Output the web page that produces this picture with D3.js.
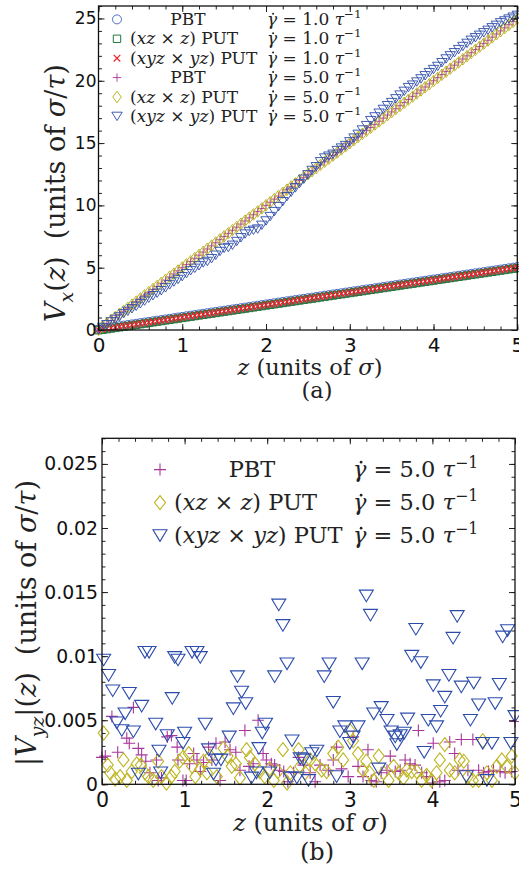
<!DOCTYPE html>
<html>
<head>
<meta charset="utf-8">
<script src="https://cdn.jsdelivr.net/npm/d3@7"></script>
<style>
  body { margin: 0; background: #fff; }
  text { white-space: pre; }
</style>
</head>
<body>
<svg id="chart" width="519" height="871"></svg>
<script>
// ---------- data: panel (a), velocity profiles V_x(z) ----------
const zTop = [0,0.05,0.1,0.15,0.2,0.25,0.3,0.35,0.4,0.45,0.5,0.55,0.6,0.65,0.7,0.75,0.8,0.85,0.9,0.95,
  1,1.05,1.1,1.15,1.2,1.25,1.3,1.35,1.4,1.45,1.5,1.55,1.6,1.65,1.7,1.75,1.8,1.85,1.9,1.95,
  2,2.05,2.1,2.15,2.2,2.25,2.3,2.35,2.4,2.45,2.5,2.55,2.6,2.65,2.7,2.75,2.8,2.85,2.9,2.95,
  3,3.05,3.1,3.15,3.2,3.25,3.3,3.35,3.4,3.45,3.5,3.55,3.6,3.65,3.7,3.75,3.8,3.85,3.9,3.95,
  4,4.05,4.1,4.15,4.2,4.25,4.3,4.35,4.4,4.45,4.5,4.55,4.6,4.65,4.7,4.75,4.8,4.85,4.9,4.95,5];

// shear rate 1.0
const vxPBT1 = [0.04,0.10,0.15,0.20,0.25,0.30,0.35,0.40,0.45,0.50,0.55,0.60,0.65,0.70,0.75,0.80,0.85,0.90,0.95,1.00,
  1.05,1.10,1.15,1.20,1.25,1.30,1.35,1.40,1.45,1.50,1.55,1.60,1.65,1.70,1.75,1.80,1.85,1.90,1.95,2.00,
  2.05,2.10,2.15,2.20,2.25,2.30,2.35,2.40,2.45,2.50,2.55,2.60,2.65,2.70,2.75,2.80,2.85,2.90,2.95,3.00,
  3.05,3.10,3.15,3.20,3.25,3.30,3.35,3.40,3.45,3.50,3.55,3.60,3.65,3.70,3.75,3.80,3.85,3.90,3.95,4.00,
  4.05,4.10,4.15,4.20,4.25,4.30,4.35,4.40,4.45,4.50,4.55,4.60,4.65,4.70,4.75,4.80,4.85,4.90,4.95,5.00,5.05];
const vxXZ1 = [-0.02,0.02,0.07,0.12,0.17,0.22,0.27,0.32,0.37,0.42,0.47,0.52,0.57,0.62,0.67,0.72,0.77,0.82,0.87,0.92,
  0.97,1.02,1.07,1.12,1.17,1.22,1.27,1.32,1.37,1.42,1.47,1.52,1.57,1.62,1.67,1.72,1.77,1.82,1.87,1.92,
  1.97,2.02,2.07,2.12,2.17,2.22,2.27,2.32,2.37,2.42,2.47,2.52,2.57,2.62,2.67,2.72,2.77,2.82,2.87,2.92,
  2.97,3.02,3.07,3.12,3.17,3.22,3.27,3.32,3.37,3.42,3.47,3.52,3.57,3.62,3.67,3.72,3.77,3.82,3.87,3.92,
  3.97,4.02,4.07,4.12,4.17,4.22,4.27,4.32,4.37,4.42,4.47,4.52,4.57,4.62,4.67,4.72,4.77,4.82,4.87,4.92,4.97];
const vxXYZ1 = [0.01,0.06,0.11,0.16,0.21,0.26,0.31,0.36,0.41,0.46,0.51,0.56,0.61,0.66,0.71,0.76,0.81,0.86,0.91,0.96,
  1.01,1.06,1.11,1.16,1.21,1.26,1.31,1.36,1.41,1.46,1.51,1.56,1.61,1.66,1.71,1.76,1.81,1.86,1.91,1.96,
  2.01,2.06,2.11,2.16,2.21,2.26,2.31,2.36,2.41,2.46,2.51,2.56,2.61,2.66,2.71,2.76,2.81,2.86,2.91,2.96,
  3.01,3.06,3.11,3.16,3.21,3.26,3.31,3.36,3.41,3.46,3.51,3.56,3.61,3.66,3.71,3.76,3.81,3.86,3.91,3.96,
  4.01,4.06,4.11,4.16,4.21,4.26,4.31,4.36,4.41,4.46,4.51,4.56,4.61,4.66,4.71,4.76,4.81,4.86,4.91,4.96,5.01];

// shear rate 5.0
const vxPBT5 = [0,0.25,0.50,0.76,1.00,1.25,1.50,1.75,2.00,2.25,2.50,2.75,3.00,3.25,3.50,3.75,4.00,4.25,4.50,4.75,
  5.00,5.25,5.50,5.75,6.00,6.25,6.50,6.75,7.00,7.25,7.50,7.75,8.00,8.25,8.50,8.75,9.00,9.25,9.50,9.75,
  10.00,10.25,10.50,10.75,11.00,11.25,11.50,11.75,12.00,12.25,12.50,12.75,13.00,13.25,13.50,13.75,14.00,14.25,14.50,14.75,
  15.00,15.25,15.50,15.75,16.00,16.25,16.50,16.75,17.00,17.25,17.50,17.75,18.00,18.25,18.50,18.75,19.00,19.25,19.50,19.75,
  20.00,20.25,20.50,20.75,21.00,21.25,21.50,21.75,22.00,22.25,22.50,22.75,23.00,23.25,23.50,23.75,24.00,24.25,24.50,24.75,25.00];
const vxXZ5 = [0.02,0.28,0.53,0.78,1.03,1.28,1.53,1.78,2.03,2.28,2.53,2.78,3.03,3.28,3.53,3.78,4.03,4.28,4.52,4.77,
  5.02,5.27,5.52,5.77,6.02,6.27,6.52,6.77,7.02,7.27,7.52,7.77,8.02,8.27,8.52,8.77,9.02,9.27,9.51,9.76,
  10.01,10.26,10.51,10.76,11.01,11.26,11.51,11.76,12.01,12.26,12.50,12.75,13.00,13.25,13.50,13.75,13.99,14.24,14.49,14.74,
  14.99,15.24,15.49,15.74,15.99,16.24,16.49,16.74,16.99,17.24,17.48,17.73,17.98,18.23,18.48,18.73,18.98,19.23,19.48,19.73,
  19.98,20.23,20.48,20.73,20.98,21.23,21.48,21.73,21.98,22.23,22.48,22.73,22.98,23.23,23.48,23.73,23.98,24.23,24.48,24.73,24.98];
const vxXYZ5 = [0.00,0.20,0.42,0.65,0.85,1.05,1.30,1.50,1.70,1.90,2.10,2.32,2.55,2.75,2.95,3.15,3.38,3.62,3.85,4.05,
  4.28,4.52,4.75,4.95,5.15,5.38,5.50,5.72,6.00,6.30,6.55,6.62,6.80,7.10,7.40,7.70,7.90,8.00,8.10,8.40,
  8.75,9.10,9.50,9.90,10.30,10.70,11.05,11.40,11.75,12.10,12.45,12.80,13.10,13.50,13.80,13.95,14.10,14.40,14.60,14.80,
  15.10,15.40,15.70,16.05,16.40,16.80,17.10,17.40,17.70,18.00,18.25,18.55,18.85,19.15,19.45,19.65,19.90,20.15,20.40,20.65,
  20.90,21.15,21.45,21.75,22.00,22.25,22.50,22.75,23.00,23.25,23.45,23.65,23.85,24.05,24.25,24.45,24.65,24.80,24.95,25.10,25.25];

// ---------- data: panel (b), |V_yz|(z) at shear rate 5.0, pairs [z, value] ----------
const vyzPBT = [[0.00,0.0021],[0.04,0.0022],[0.12,0.0053],[0.19,0.0025],[0.30,0.0036],[0.33,0.0032],[0.38,0.0060],[0.44,0.0028],
  [0.48,0.0023],[0.53,0.0018],[0.58,0.0009],[0.66,0.0019],[0.68,0.0003],[0.72,0.0005],[0.79,0.0037],[0.84,0.0038],
  [0.91,0.0029],[0.92,0.0019],[0.98,0.0003],[1.02,0.0003],[1.06,0.0016],[1.11,0.0024],[1.15,0.0019],[1.19,0.0010],
  [1.23,0.0017],[1.29,0.0029],[1.33,0.0019],[1.38,0.0032],[1.43,0.0003],[1.49,0.0033],[1.55,0.0027],[1.62,0.0025],
  [1.67,0.0011],[1.73,0.0042],[1.78,0.0014],[1.83,0.0016],[1.89,0.0050],[1.95,0.0024],[1.99,0.0019],[2.05,0.0016],
  [2.09,0.0015],[2.15,0.0011],[2.20,0.0010],[2.25,0.0002],[2.32,0.0009],[2.38,0.0021],[2.44,0.0015],[2.52,0.0009],
  [2.58,0.0002],[2.64,0.0015],[2.74,0.0011],[2.80,0.0019],[2.84,0.0029],[2.90,0.0012],[2.98,0.0006],[3.04,0.0037],
  [3.10,0.0014],[3.16,0.0006],[3.22,0.0027],[3.26,0.0003],[3.32,0.0002],[3.38,0.0009],[3.45,0.0011],[3.49,0.0022],
  [3.55,0.0010],[3.61,0.0011],[3.67,0.0019],[3.73,0.0016],[3.79,0.0015],[3.83,0.0042],[3.87,0.0009],[3.93,0.0006],
  [4.00,0.0001],[4.01,0.0032],[4.09,0.0002],[4.15,0.0003],[4.21,0.0033],[4.27,0.0024],[4.31,0.0011],[4.35,0.0035],
  [4.43,0.0011],[4.49,0.0035],[4.56,0.0011],[4.62,0.0009],[4.68,0.0010],[4.74,0.0011],[4.82,0.0010],[4.88,0.0009],
  [4.96,0.0010],[5.00,0.0049]];
const vyzXZ = [[0.02,0.0040],[0.07,0.0015],[0.10,0.0009],[0.16,0.0004],[0.22,0.0006],[0.26,0.0019],[0.30,0.0003],[0.36,0.0010],
  [0.42,0.0016],[0.47,0.0015],[0.52,0.0009],[0.56,0.0006],[0.62,0.0003],[0.68,0.0018],[0.72,0.0006],[0.78,0.0001],
  [0.84,0.0006],[0.88,0.0010],[0.94,0.0018],[0.98,0.0021],[1.05,0.0024],[1.09,0.0014],[1.13,0.0006],[1.19,0.0012],
  [1.23,0.0018],[1.27,0.0009],[1.31,0.0022],[1.39,0.0006],[1.47,0.0028],[1.52,0.0022],[1.57,0.0014],[1.62,0.0016],
  [1.67,0.0005],[1.75,0.0027],[1.79,0.0021],[1.85,0.0016],[1.91,0.0010],[1.97,0.0006],[2.03,0.0012],[2.08,0.0003],
  [2.13,0.0010],[2.19,0.0027],[2.24,0.0001],[2.28,0.0009],[2.38,0.0027],[2.40,0.0014],[2.46,0.0009],[2.52,0.0019],
  [2.58,0.0016],[2.66,0.0011],[2.72,0.0010],[2.80,0.0024],[2.86,0.0029],[2.92,0.0019],[3.00,0.0042],[3.04,0.0034],
  [3.10,0.0024],[3.16,0.0011],[3.20,0.0018],[3.24,0.0009],[3.29,0.0003],[3.35,0.0022],[3.41,0.0009],[3.47,0.0003],
  [3.53,0.0014],[3.59,0.0009],[3.65,0.0005],[3.69,0.0011],[3.75,0.0010],[3.81,0.0010],[3.87,0.0003],[3.93,0.0007],
  [3.99,0.0003],[4.05,0.0009],[4.09,0.0019],[4.15,0.0031],[4.21,0.0011],[4.27,0.0009],[4.33,0.0019],[4.38,0.0018],
  [4.43,0.0006],[4.49,0.0003],[4.56,0.0003],[4.61,0.0034],[4.66,0.0009],[4.72,0.0003],[4.78,0.0014],[4.84,0.0019],
  [4.90,0.0014],[4.96,0.0022],[5.00,0.0009]];
const vyzXYZ = [[0.02,0.0097],[0.08,0.0085],[0.13,0.0073],[0.18,0.0048],[0.24,0.0042],[0.28,0.0055],[0.33,0.0071],[0.38,0.0041],
  [0.44,0.0008],[0.48,0.0061],[0.52,0.0103],[0.57,0.0103],[0.65,0.0047],[0.69,0.0026],[0.71,0.0009],[0.79,0.0038],
  [0.85,0.0067],[0.88,0.0099],[0.92,0.0097],[0.98,0.0032],[1.00,0.0040],[1.09,0.0103],[1.15,0.0103],[1.19,0.0099],
  [1.25,0.0047],[1.29,0.0027],[1.35,0.0008],[1.38,0.0019],[1.44,0.0019],[1.54,0.0037],[1.59,0.0059],[1.64,0.0084],
  [1.69,0.0072],[1.74,0.0063],[1.81,0.0005],[1.87,0.0009],[1.90,0.0028],[1.94,0.0040],[1.98,0.0047],[2.03,0.0009],
  [2.09,0.0084],[2.14,0.0140],[2.19,0.0124],[2.24,0.0094],[2.28,0.0005],[2.30,0.0034],[2.36,0.0005],[2.40,0.0020],
  [2.44,0.0019],[2.50,0.0003],[2.54,0.0024],[2.60,0.0026],[2.69,0.0084],[2.75,0.0094],[2.80,0.0064],[2.84,0.0006],
  [2.88,0.0041],[2.94,0.0045],[3.00,0.0032],[3.04,0.0037],[3.10,0.0045],[3.15,0.0094],[3.20,0.0147],[3.25,0.0132],
  [3.29,0.0055],[3.35,0.0012],[3.38,0.0060],[3.45,0.0050],[3.50,0.0041],[3.55,0.0037],[3.57,0.0031],[3.61,0.0038],
  [3.66,0.0040],[3.70,0.0051],[3.75,0.0100],[3.80,0.0121],[3.86,0.0095],[3.90,0.0025],[3.95,0.0050],[4.01,0.0077],
  [4.05,0.0045],[4.10,0.0057],[4.15,0.0068],[4.20,0.0085],[4.25,0.0114],[4.30,0.0131],[4.35,0.0076],[4.41,0.0006],
  [4.46,0.0050],[4.50,0.0079],[4.56,0.0062],[4.61,0.0032],[4.66,0.0003],[4.72,0.0032],[4.76,0.0063],[4.81,0.0078],
  [4.85,0.0115],[4.91,0.0120],[4.95,0.0032],[5.00,0.0053]];

// ---------- axis ticks ----------
const xTicks = [0, 1, 2, 3, 4, 5];
const xTickLabels = ["0", "1", "2", "3", "4", "5"];
const yTicksTop = [0, 5, 10, 15, 20, 25];
const yTickLabelsTop = ["0", "5", "10", "15", "20", "25"];
const yTicksBot = [0, 0.005, 0.01, 0.015, 0.02, 0.025];
const yTickLabelsBot = ["0", "0.005", "0.01", "0.015", "0.02", "0.025"];

// ---------- drawing ----------
const svg = d3.select("#chart");
const SANS = "DejaVu Sans", SERIF = "DejaVu Serif";

const markerPath = {
  circle: s => `M${s.r},0A${s.r},${s.r} 0 1,1 ${-s.r},0A${s.r},${s.r} 0 1,1 ${s.r},0Z`,
  square: s => `M${-s.h},${-s.h}H${s.h}V${s.h}H${-s.h}Z`,
  cross: s => `M${-s.h},${-s.h}L${s.h},${s.h}M${-s.h},${s.h}L${s.h},${-s.h}`,
  plus: s => `M${-s.h},0H${s.h}M0,${-s.h}V${s.h}`,
  diamond: s => `M0,${-s.hh}L${s.hw},0L0,${s.hh}L${-s.hw},0Z`,
  tri: s => `M${-s.hw},${-s.ht}H${s.hw}L0,${s.ht}Z`
};

function rich(t, parts, fs) {
  let cur = 0;
  parts.forEach(([s, k]) => {
    const kinds = (k || "").split(" ");
    let off = 0, size = fs;
    if (kinds.includes("sub")) { off = 0.28 * fs; size = 0.7 * fs; }
    if (kinds.includes("sup")) { off = -0.42 * fs; size = 0.7 * fs; }
    t.append("tspan")
      .attr("dy", off - cur)
      .attr("font-size", size)
      .attr("font-style", kinds.includes("i") ? "italic" : "normal")
      .text(s);
    cur = off;
  });
}

function drawMarkers(g, pts, style) {
  g.append("g").selectAll("path").data(pts).join("path")
    .attr("transform", d => `translate(${d[0]},${d[1]})`)
    .attr("d", markerPath[style.shape](style))
    .attr("fill", "none")
    .attr("stroke", style.color)
    .attr("stroke-width", style.sw || 1);
}

function frameAxes(g, x, y, W, H, yTicks, yLabels, yMinor, ys) {
  const xMinor = d3.range(0, 5.0001, 0.2);
  const bottomMajor = d3.axisBottom(x).tickValues(xTicks)
    .tickFormat((d, i) => xTickLabels[i]).tickSize(-6).tickPadding(ys.xPad);
  const gx = g.append("g").attr("transform", `translate(0,${H})`).call(bottomMajor);
  gx.selectAll("text").attr("font-family", SANS).attr("font-size", ys.xFont).attr("fill", "#111");
  const leftMajor = d3.axisLeft(y).tickValues(yTicks)
    .tickFormat((d, i) => yLabels[i]).tickSize(-6).tickPadding(ys.yPad);
  const gy = g.append("g").call(leftMajor);
  gy.selectAll("text").attr("font-family", SANS).attr("font-size", ys.yFont).attr("fill", "#111");
  // mirrored majors and all minors
  g.append("g").attr("transform", `translate(0,${H})`)
    .call(d3.axisBottom(x).tickValues(xMinor).tickSize(-3.5).tickFormat(""));
  g.append("g").call(d3.axisTop(x).tickValues(xTicks).tickSize(-6).tickFormat(""));
  g.append("g").call(d3.axisTop(x).tickValues(xMinor).tickSize(-3.5).tickFormat(""));
  g.append("g").call(d3.axisLeft(y).tickValues(yMinor).tickSize(-3.5).tickFormat(""));
  g.append("g").attr("transform", `translate(${W},0)`)
    .call(d3.axisRight(y).tickValues(yTicks).tickSize(-6).tickFormat(""));
  g.append("g").attr("transform", `translate(${W},0)`)
    .call(d3.axisRight(y).tickValues(yMinor).tickSize(-3.5).tickFormat(""));
  g.selectAll(".domain").remove();
  g.selectAll(".tick line").attr("stroke", "#222").attr("stroke-width", 1);
  g.append("rect").attr("width", W).attr("height", H)
    .attr("fill", "none").attr("stroke", "#111").attr("stroke-width", 1.3);
}

function legendRow(g, x0, yb, style, label, labelAnchor, labelX, gx, rate, fs) {
  drawMarkers(g, [[x0, yb - fs * 0.33]], style);
  const t = g.append("text").attr("x", labelX).attr("y", yb)
    .attr("font-family", SERIF).attr("font-size", fs).attr("text-anchor", labelAnchor).attr("fill", "#222");
  rich(t, label, fs);
  const tg = g.append("text").attr("x", gx).attr("y", yb)
    .attr("font-family", SERIF).attr("font-size", fs).attr("fill", "#222");
  rich(tg, [["γ", "i"], [" = " + rate + " ", ""], ["τ", "i"], ["−1", "sup"]], fs);
  g.append("circle").attr("cx", gx + fs * 0.36).attr("cy", yb - fs * 0.66).attr("r", fs * 0.06).attr("fill", "#222");
}

const lblPBT = [["PBT", ""]];
const lblXZ = [["(", ""], ["xz", "i"], [" × ", ""], ["z", "i"], [") PUT", ""]];
const lblXYZ = [["(", ""], ["xyz", "i"], [" × ", ""], ["yz", "i"], [") PUT", ""]];

// ===== panel (a) =====
{
  const L = 98.5, T = 6, R = 517.3, B = 330;
  const W = R - L, H = B - T;
  const x = d3.scaleLinear().domain([0, 5]).range([0, W]);
  const y = d3.scaleLinear().domain([0, 26]).range([H, 0]);
  const g = svg.append("g").attr("transform", `translate(${L},${T})`);

  const sty = {
    c1: { shape: "circle", r: 4.5, color: "#3b5cc0", sw: 0.9 },
    s1: { shape: "square", h: 3.7, color: "#1f7a3c", sw: 1 },
    x1: { shape: "cross", h: 3.3, color: "#e8232b", sw: 1.2 },
    p5: { shape: "plus", h: 4.2, color: "#a8359c", sw: 0.9 },
    d5: { shape: "diamond", hw: 4.2, hh: 5.8, color: "#bdb520", sw: 1 },
    t5: { shape: "tri", hw: 5.2, ht: 4.2, color: "#2c4cab", sw: 0.9 }
  };
  const pts = vals => zTop.map((z, i) => [x(z), y(vals[i])]);
  drawMarkers(g, pts(vxPBT1), sty.c1);
  drawMarkers(g, pts(vxXZ1), sty.s1);
  drawMarkers(g, pts(vxXYZ1), sty.x1);
  drawMarkers(g, pts(vxPBT5), sty.p5);
  drawMarkers(g, pts(vxXZ5), sty.d5);
  drawMarkers(g, pts(vxXYZ5), sty.t5);

  frameAxes(g, x, y, W, H, yTicksTop, yTickLabelsTop, d3.range(0, 26.001, 1),
    { xFont: 20, yFont: 17, xPad: 7.5, yPad: 2 });

  // legend
  const lg = svg.append("g");
  const fs = 17, rows = [25, 44.4, 63.8, 83.2, 102.6, 122];
  const lx = 117;
  legendRow(lg, lx, rows[0], sty.c1, lblPBT, "middle", 188, 267, "1.0", fs);
  legendRow(lg, lx, rows[1], sty.s1, lblXZ, "start", 130, 267, "1.0", fs);
  legendRow(lg, lx, rows[2], sty.x1, lblXYZ, "start", 130, 267, "1.0", fs);
  legendRow(lg, lx, rows[3], sty.p5, lblPBT, "middle", 188, 267, "5.0", fs);
  legendRow(lg, lx, rows[4], sty.d5, lblXZ, "start", 130, 267, "5.0", fs);
  legendRow(lg, lx, rows[5], sty.t5, lblXYZ, "start", 130, 267, "5.0", fs);

  // axis titles
  const xt = svg.append("text").attr("x", 310).attr("y", 375).attr("text-anchor", "middle")
    .attr("font-family", SERIF).attr("font-size", 22.5).attr("fill", "#222");
  rich(xt, [["z", "i"], [" (units of ", ""], ["σ", "i"], [")", ""]], 22.5);
  svg.append("text").attr("x", 317).attr("y", 398).attr("text-anchor", "middle")
    .attr("font-family", SERIF).attr("font-size", 22.5).attr("fill", "#222").text("(a)");
  const yt = svg.append("text").attr("transform", "translate(65,193) rotate(-90)").attr("text-anchor", "middle")
    .attr("font-family", SERIF).attr("font-size", 27).attr("fill", "#222");
  rich(yt, [["V", "i"], ["x", "i sub"], ["(", ""], ["z", "i"], [")", ""], ["  (units of ", ""], ["σ", "i"], ["/", ""], ["τ", "i"], [")", ""]], 27);
}

// ===== panel (b) =====
{
  const L = 102, T = 438.3, R = 515, B = 784.3;
  const W = R - L, H = B - T;
  const x = d3.scaleLinear().domain([0, 5]).range([0, W]);
  const y = d3.scaleLinear().domain([0, 0.027]).range([H, 0]);
  const g = svg.append("g").attr("transform", `translate(${L},${T})`);

  const sty = {
    p5: { shape: "plus", h: 6, color: "#a8359c", sw: 1.1 },
    d5: { shape: "diamond", hw: 5.5, hh: 7, color: "#bdb520", sw: 1.1 },
    t5: { shape: "tri", hw: 7, ht: 5.8, color: "#2c4cab", sw: 1.1 }
  };
  const pts = arr => arr.map(d => [x(d[0]), y(d[1])]);
  drawMarkers(g, pts(vyzPBT), sty.p5);
  drawMarkers(g, pts(vyzXZ), sty.d5);
  drawMarkers(g, pts(vyzXYZ), sty.t5);

  frameAxes(g, x, y, W, H, yTicksBot, yTickLabelsBot, d3.range(0, 0.02701, 0.001),
    { xFont: 20.5, yFont: 18.8, xPad: 8, yPad: 4 });

  const lg = svg.append("g");
  const fs = 22.5, rows = [477, 510, 543];
  legendRow(lg, 160, rows[0], sty.p5, lblPBT, "middle", 252, 353, "5.0", fs);
  legendRow(lg, 160, rows[1], sty.d5, lblXZ, "start", 174, 353, "5.0", fs);
  legendRow(lg, 160, rows[2], sty.t5, lblXYZ, "start", 174, 353, "5.0", fs);

  const xt = svg.append("text").attr("x", 310.5).attr("y", 831).attr("text-anchor", "middle")
    .attr("font-family", SERIF).attr("font-size", 24).attr("fill", "#222");
  rich(xt, [["z", "i"], [" (units of ", ""], ["σ", "i"], [")", ""]], 24);
  svg.append("text").attr("x", 317).attr("y", 860).attr("text-anchor", "middle")
    .attr("font-family", SERIF).attr("font-size", 24).attr("fill", "#222").text("(b)");
  const yt = svg.append("text").attr("transform", "translate(36,623) rotate(-90)").attr("text-anchor", "middle")
    .attr("font-family", SERIF).attr("font-size", 27).attr("fill", "#222");
  rich(yt, [["|", ""], ["V", "i"], ["yz", "i sub"], ["|(", ""], ["z", "i"], [")", ""], ["  (units of ", ""], ["σ", "i"], ["/", ""], ["τ", "i"], [")", ""]], 27);
}
</script>
</body>
</html>
